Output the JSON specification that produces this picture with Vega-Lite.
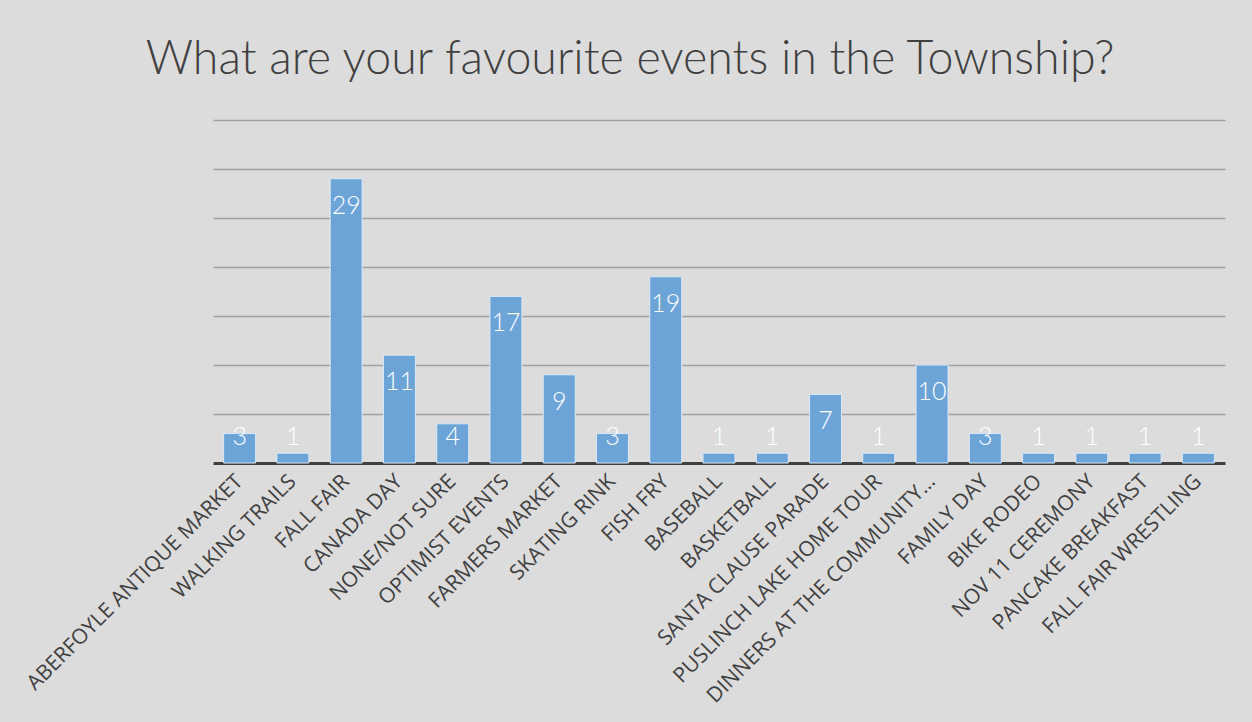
{
  "$schema": "https://vega.github.io/schema/vega-lite/v6.json",
  "width": 1012,
  "height": 343,
  "autosize": {"type": "none"},
  "padding": {"left": 213, "top": 120, "right": 27, "bottom": 259},
  "background": "#dcdcdc",
  "config": {"view": {"stroke": null}, "font": "Open Sans"},
  "title": {
    "text": "What are your favourite events in the Township?",
    "fontSize": 46.5,
    "font": "Lato",
    "fontWeight": 300,
    "color": "#404040",
    "anchor": "middle",
    "dx": -89,
    "offset": 37
  },
  "data": {
    "values": [
      {"event": "ABERFOYLE ANTIQUE MARKET", "count": 3},
      {"event": "WALKING TRAILS", "count": 1},
      {"event": "FALL FAIR", "count": 29},
      {"event": "CANADA DAY", "count": 11},
      {"event": "NONE/NOT SURE", "count": 4},
      {"event": "OPTIMIST EVENTS", "count": 17},
      {"event": "FARMERS MARKET", "count": 9},
      {"event": "SKATING RINK", "count": 3},
      {"event": "FISH FRY", "count": 19},
      {"event": "BASEBALL", "count": 1},
      {"event": "BASKETBALL", "count": 1},
      {"event": "SANTA CLAUSE PARADE", "count": 7},
      {"event": "PUSLINCH LAKE HOME TOUR", "count": 1},
      {"event": "DINNERS AT THE COMMUNITY…", "count": 10},
      {"event": "FAMILY DAY", "count": 3},
      {"event": "BIKE RODEO", "count": 1},
      {"event": "NOV 11 CEREMONY", "count": 1},
      {"event": "PANCAKE BREAKFAST", "count": 1},
      {"event": "FALL FAIR WRESTLING", "count": 1}
    ]
  },
  "encoding": {
    "x": {
      "field": "event",
      "type": "nominal",
      "sort": null,
      "scale": {"paddingInner": 0.4, "paddingOuter": 0.2},
      "axis": {
        "title": null,
        "labelAngle": -45,
        "labelAlign": "right",
        "labelBaseline": "middle",
        "labelFontSize": 21,
        "labelFont": "Open Sans",
        "labelColor": "#404040",
        "labelPadding": 15,
        "labelLimit": 500,
        "ticks": false,
        "domainColor": "#404040",
        "domainWidth": 3,
        "grid": false
      }
    }
  },
  "layer": [
    {
      "mark": {"type": "bar", "color": "#6ca4d8", "stroke": "#dbe9f6", "strokeWidth": 1},
      "encoding": {
        "y": {
          "field": "count",
          "type": "quantitative",
          "scale": {"domain": [0, 35], "nice": false},
          "axis": {
            "title": null,
            "labels": false,
            "ticks": false,
            "domain": false,
            "grid": true,
            "values": [5, 10, 15, 20, 25, 30, 35],
            "gridColor": "#a0a0a0",
            "gridWidth": 1.5
          }
        }
      }
    },
    {
      "transform": [{"calculate": "max(datum.count - 2.75, 2.65)", "as": "labelPos"}],
      "mark": {"type": "text", "color": "white", "fontSize": 25, "font": "Lato", "fontWeight": 300, "baseline": "middle", "align": "center"},
      "encoding": {
        "y": {"field": "labelPos", "type": "quantitative"},
        "text": {"field": "count", "type": "quantitative"}
      }
    }
  ]
}
